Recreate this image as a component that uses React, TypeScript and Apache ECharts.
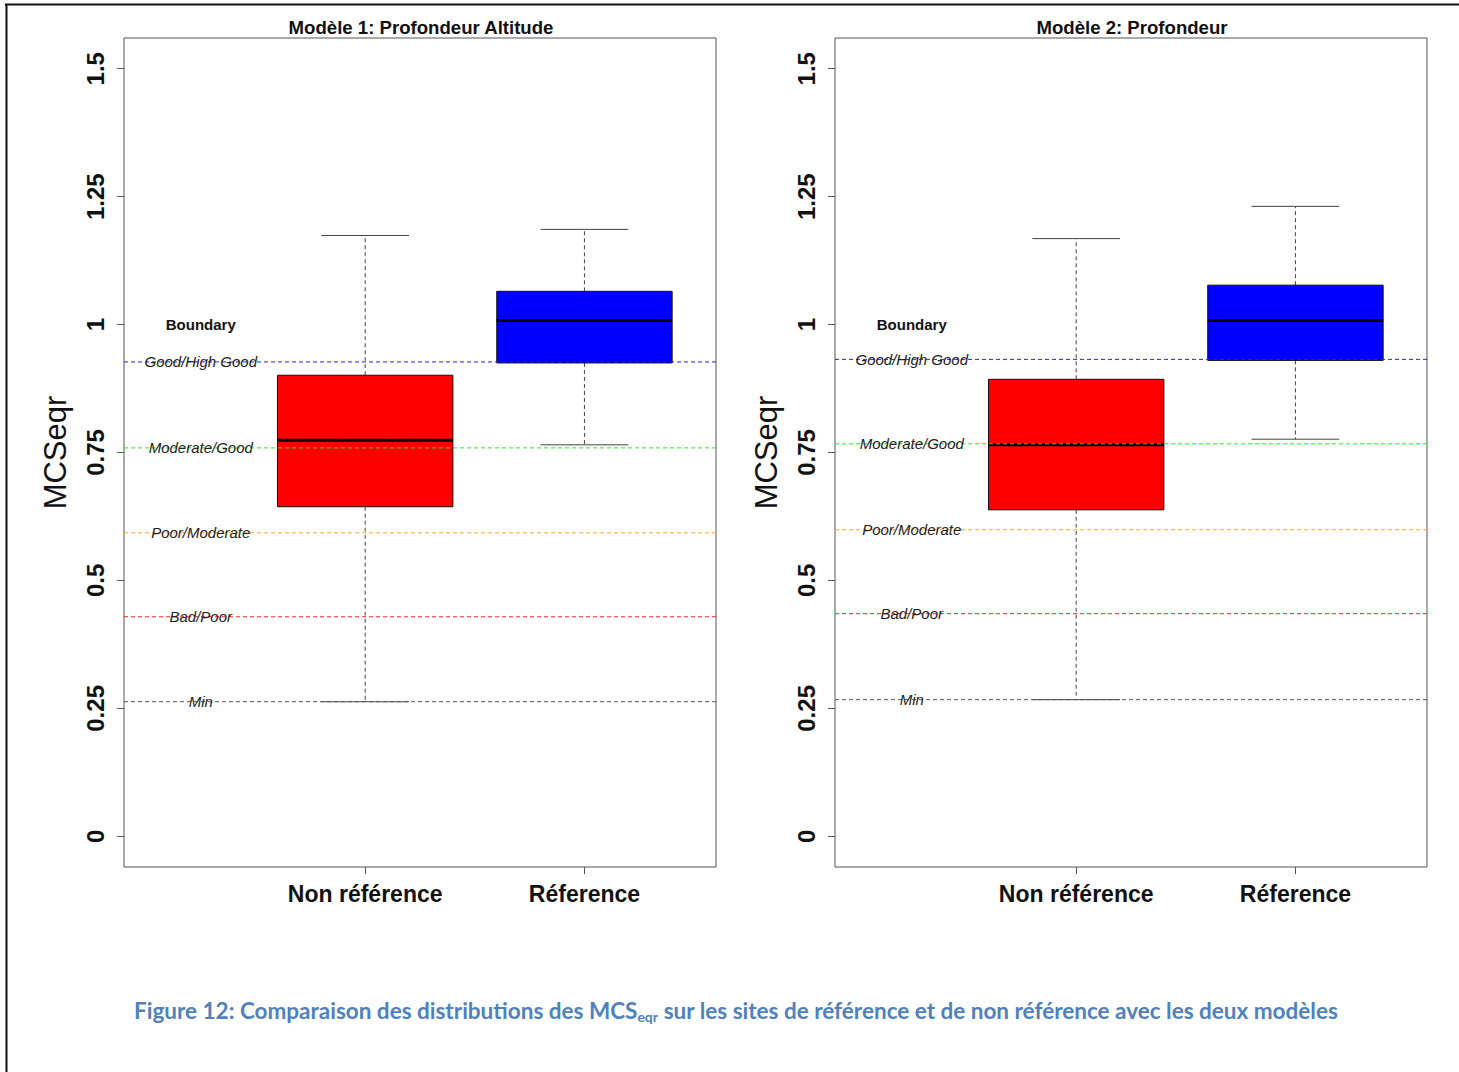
import React, { useEffect, useRef } from "react";
import * as echarts from "echarts";

// ---- Data ----
const categories = ["Non référence", "Réference"];
const panelTitles = ["Modèle 1: Profondeur Altitude", "Modèle 2: Profondeur"];
// [lower whisker, Q1, median, Q3, upper whisker]
const model1NonRef = [0.263, 0.644, 0.774, 0.901, 1.174];
const model1Ref = [0.765, 0.925, 1.008, 1.065, 1.186];
const model2NonRef = [0.267, 0.638, 0.765, 0.893, 1.168];
const model2Ref = [0.776, 0.93, 1.008, 1.077, 1.231];
const boxColors = ["#ff0000", "#0000ff"];

const boundaryNames = ["Good/High Good", "Moderate/Good", "Poor/Moderate", "Bad/Poor", "Min"];
const boundaryColors = ["#2020ff", "#22ee22", "#ffaa22", "#ff2020", "#555555"];
const model1Boundaries = [0.927, 0.759, 0.593, 0.429, 0.263];
const model2Boundaries = [0.932, 0.767, 0.599, 0.435, 0.267];
const boundaryHeader = "Boundary";
const boundaryHeaderY = 1.0;
const boundaryLabelX = 0.25;

const yTickValues = [0, 0.25, 0.5, 0.75, 1, 1.25, 1.5];
const yTickLabels = ["0", "0.25", "0.5", "0.75", "1", "1.25", "1.5"];
const xTickValues = [1, 2];
const yAxisName = "MCSeqr";

const FONT = "'Liberation Sans', Arial, sans-serif";

function buildPanel(idx: number, stats: number[][], boundaries: number[], left: number) {
  const grid = { left, top: 38, width: 592, height: 829, show: true, borderColor: "#555", borderWidth: 1, backgroundColor: "transparent" };
  const xAxis = {
    gridIndex: idx,
    type: "value",
    position: "bottom",
    min: -0.1,
    max: 2.6,
    splitLine: { show: false },
    axisLine: { show: false, onZero: false },
    axisTick: { show: true, customValues: xTickValues, length: 7, lineStyle: { color: "#555" } },
    axisLabel: {
      show: true,
      customValues: xTickValues,
      formatter: (v: number) => categories[Math.round(v) - 1] || "",
      fontFamily: FONT,
      fontWeight: "bold",
      fontSize: 23,
      color: "#111",
      margin: 15,
    },
  };
  const yAxis = {
    gridIndex: idx,
    type: "value",
    position: "left",
    min: -0.06,
    max: 1.56,
    splitLine: { show: false },
    axisLine: { show: false, onZero: false },
    axisTick: { show: true, customValues: yTickValues, length: 7, lineStyle: { color: "#555" } },
    axisLabel: {
      show: true,
      customValues: yTickValues,
      rotate: 90,
      formatter: (v: number) => {
        const i = yTickValues.findIndex((t) => Math.abs(t - v) < 1e-6);
        return i >= 0 ? yTickLabels[i] : "";
      },
      fontFamily: FONT,
      fontWeight: "bold",
      fontSize: 24,
      color: "#111",
      margin: 17,
    },
    name: yAxisName,
    nameLocation: "middle",
    nameRotate: 90,
    nameGap: 53,
    nameTextStyle: { fontFamily: FONT, fontSize: 31, color: "#111" },
  };

  const boxData = stats.map((s, i) => [i + 1, ...s]);
  const boxSeries = {
    type: "custom",
    xAxisIndex: idx,
    yAxisIndex: idx,
    z: 2,
    data: boxData,
    renderItem: (params: any, api: any) => {
      const x = api.value(0);
      const lo = api.value(1), q1 = api.value(2), med = api.value(3), q3 = api.value(4), hi = api.value(5);
      const halfW = api.size([0.4, 0])[0];
      const capHalf = api.size([0.2, 0])[0];
      const cx = api.coord([x, med])[0];
      const yLo = api.coord([x, lo])[1];
      const yQ1 = api.coord([x, q1])[1];
      const yMed = api.coord([x, med])[1];
      const yQ3 = api.coord([x, q3])[1];
      const yHi = api.coord([x, hi])[1];
      const whisk = { stroke: "#444", lineWidth: 1, lineDash: [4, 3] };
      const cap = { stroke: "#444", lineWidth: 1 };
      return {
        type: "group",
        children: [
          { type: "line", shape: { x1: cx, y1: yQ3, x2: cx, y2: yHi }, style: whisk },
          { type: "line", shape: { x1: cx, y1: yQ1, x2: cx, y2: yLo }, style: whisk },
          { type: "line", shape: { x1: cx - capHalf, y1: yHi, x2: cx + capHalf, y2: yHi }, style: cap },
          { type: "line", shape: { x1: cx - capHalf, y1: yLo, x2: cx + capHalf, y2: yLo }, style: cap },
          {
            type: "rect",
            shape: { x: cx - halfW, y: yQ3, width: halfW * 2, height: yQ1 - yQ3 },
            style: { fill: boxColors[params.dataIndex], stroke: "#111", lineWidth: 1 },
          },
          { type: "line", shape: { x1: cx - halfW, y1: yMed, x2: cx + halfW, y2: yMed }, style: { stroke: "#000", lineWidth: 3 } },
        ],
      };
    },
  };

  const boundSeries = {
    type: "custom",
    xAxisIndex: idx,
    yAxisIndex: idx,
    z: 3,
    data: boundaries.map((b, i) => [boundaryLabelX, b, i]),
    renderItem: (params: any, api: any) => {
      const i = params.dataIndex;
      const cs = params.coordSys;
      const p = api.coord([api.value(0), api.value(1)]);
      return {
        type: "group",
        children: [
          {
            type: "line",
            shape: { x1: cs.x, y1: p[1], x2: cs.x + cs.width, y2: p[1] },
            style: { stroke: boundaryColors[i], lineWidth: 1, lineDash: [4, 3] },
          },
          {
            type: "text",
            x: p[0],
            y: p[1],
            style: {
              text: boundaryNames[i],
              fontFamily: FONT,
              fontStyle: "italic",
              fontSize: 15,
              fill: "#222",
              align: "center",
              verticalAlign: "middle",
            },
          },
        ],
      };
    },
  };

  const headerSeries = {
    type: "custom",
    xAxisIndex: idx,
    yAxisIndex: idx,
    z: 3,
    data: [[boundaryLabelX, boundaryHeaderY]],
    renderItem: (params: any, api: any) => {
      const p = api.coord([api.value(0), api.value(1)]);
      return {
        type: "text",
        x: p[0],
        y: p[1],
        style: {
          text: boundaryHeader,
          fontFamily: FONT,
          fontWeight: "bold",
          fontSize: 15,
          fill: "#111",
          align: "center",
          verticalAlign: "middle",
        },
      };
    },
  };

  const title = {
    text: panelTitles[idx],
    left: left + 292,
    top: 13,
    textAlign: "center",
    textStyle: { fontFamily: FONT, fontWeight: "bold", fontSize: 18.6, color: "#111" },
  };

  return { grid, xAxis, yAxis, series: [boxSeries, boundSeries, headerSeries], title };
}

export default function App() {
  const ref = useRef<HTMLDivElement>(null);
  useEffect(() => {
    if (!ref.current) return;
    const chart = echarts.init(ref.current, undefined, { renderer: "svg" });
    const p1 = buildPanel(0, [model1NonRef, model1Ref], model1Boundaries, 124);
    const p2 = buildPanel(1, [model2NonRef, model2Ref], model2Boundaries, 835);
    chart.setOption({
      animation: false,
      backgroundColor: "#ffffff",
      title: [p1.title, p2.title],
      grid: [p1.grid, p2.grid],
      xAxis: [p1.xAxis, p2.xAxis],
      yAxis: [p1.yAxis, p2.yAxis],
      series: [...p1.series, ...p2.series],
      graphic: [
        { type: "line", shape: { x1: 5, y1: 4.5, x2: 1459, y2: 4.5 }, style: { stroke: "#111", lineWidth: 2 } },
        { type: "line", shape: { x1: 6.5, y1: 4, x2: 6.5, y2: 1072 }, style: { stroke: "#111", lineWidth: 2 } },
        {
          type: "text",
          x: 736,
          y: 1010,
          style: {
            text: "{m|Figure 12: Comparaison des distributions des MCS}{s|eqr}{m| sur les sites de référence et de non référence avec les deux modèles}",
            align: "center",
            verticalAlign: "middle",
            rich: {
              m: { fontFamily: "Lato, 'Open Sans', sans-serif", fontWeight: "bold", fontSize: 22.5, fill: "#4f81bd", color: "#4f81bd", lineHeight: 27 },
              s: { fontFamily: "Lato, 'Open Sans', sans-serif", fontWeight: "bold", fontSize: 14, fill: "#4f81bd", color: "#4f81bd", lineHeight: 15, verticalAlign: "bottom", padding: [12, 0, 0, 0] },
            },
          },
        },
      ],
    });
    return () => chart.dispose();
  }, []);
  return <div ref={ref} style={{ position: "absolute", left: 0, top: 0, width: 1459, height: 1072 }} />;
}
